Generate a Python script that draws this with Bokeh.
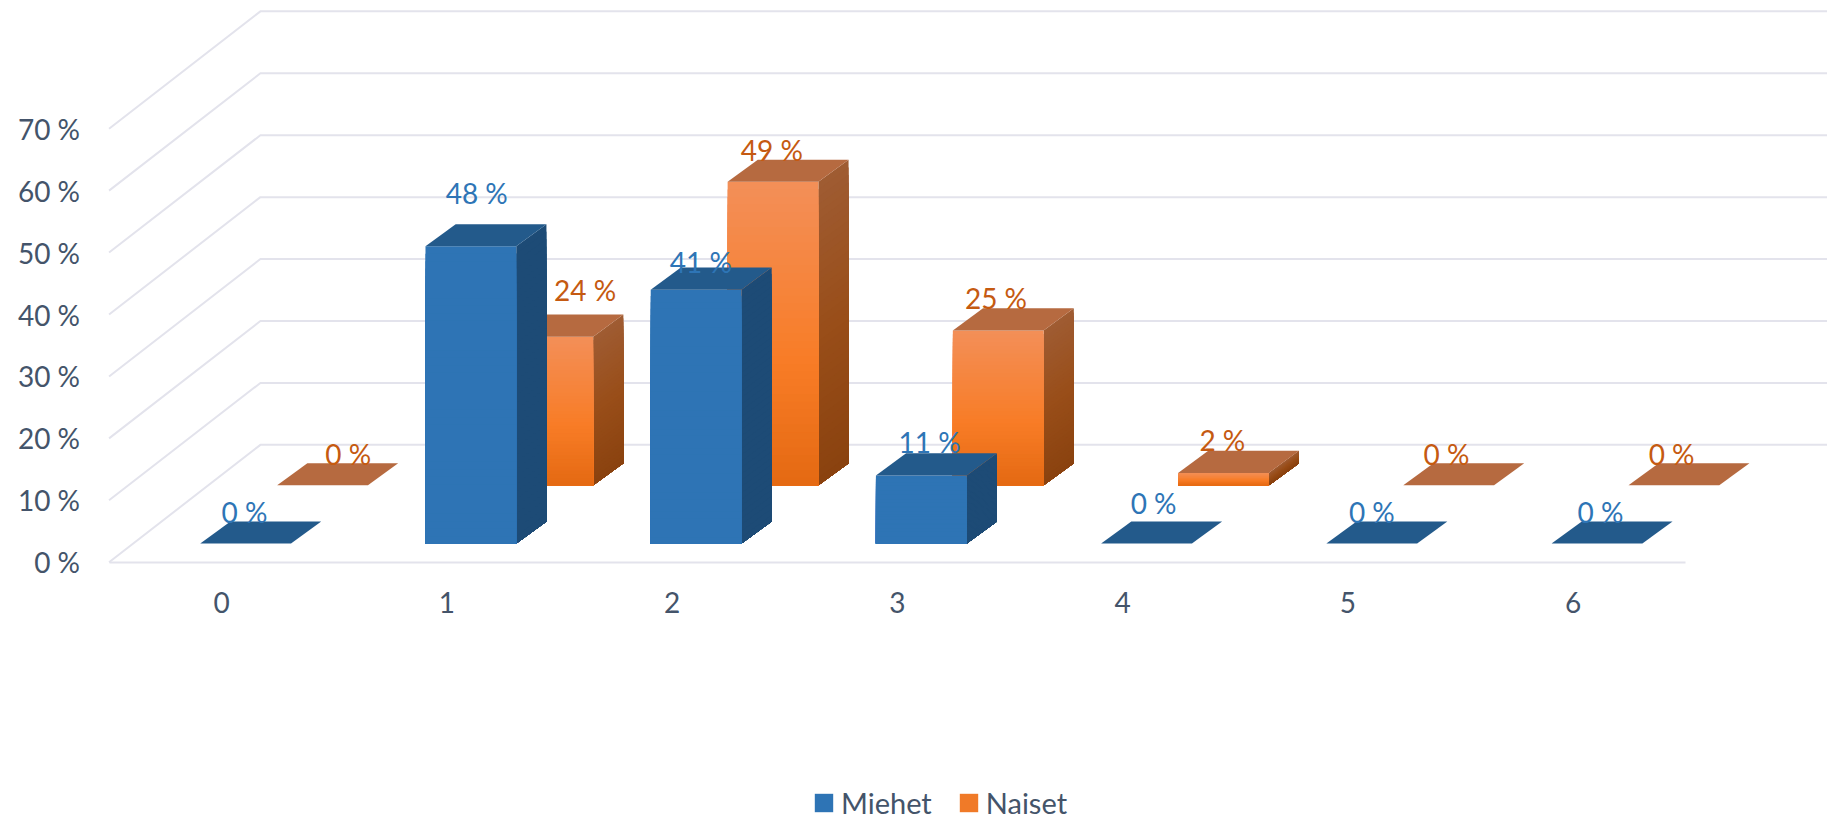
from bokeh.core.properties import value
from bokeh.embed import file_html
from bokeh.models import ColumnDataSource, FixedTicker, Legend, LegendItem, Range1d
from bokeh.plotting import figure
from bokeh.resources import INLINE
from bokeh.colors import RGB

categories = [0, 1, 2, 3, 4, 5, 6]
miehet = [0, 48, 41, 11, 0, 0, 0]
naiset = [0, 24, 49, 25, 2, 0, 0]
y_ticks = [0, 10, 20, 30, 40, 50, 60, 70]

miehet_label_dx = [-2, 4, 3, 6, 5, -1, 2]
miehet_label_dy = [-8, -27, -5, -10, -16, -8, -8]
naiset_label_dx = [21, 31, -2, -3, -2, -3, -3]
naiset_label_dy = [-8, -21, -8, -9, -9, -8, -8]

# oblique projection, in axis units
WALL_DX, WALL_DY = 0.672, 18.95
BAR_W = 0.403
BAR_DX, BAR_DY = 0.134, 3.58
M_SHIFT_X, M_LIFT = 0.1065, 3.01
N_SHIFT_X, N_LIFT = 0.448, 12.42
X0, X1 = -0.5, 6.5
N_SLICES = 40

NUM_FONT = "Lato"
AXIS_COLOR = "#44546A"
GRID = "#E3E3EC"
M_FRONT, M_SIDE, M_TOP, M_TEXT = "#2E74B5", "#1D4B76", "#235A8B", "#2E75B6"
N_TOP, N_TEXT = "#B66A40", "#C55A11"


def mix(stops, t):
    for (t0, c0), (t1, c1) in zip(stops, stops[1:]):
        if t <= t1:
            f = (t - t0) / (t1 - t0)
            return RGB(*[int(round(a + (b - a) * f)) for a, b in zip(c0, c1)]).to_hex()
    return RGB(*stops[-1][1]).to_hex()


FRONT_STOPS = [(0, (228, 105, 18)), (0.4, (248, 124, 38)), (1, (243, 143, 88))]
SIDE_STOPS = [(0, (138, 66, 15)), (0.5, (153, 78, 25)), (1, (159, 92, 51))]

p = figure(width=1827, height=820, output_backend="svg", toolbar_location=None,
           x_range=Range1d(-0.982, 7.13), y_range=Range1d(-41.7, 90.7),
           min_border=0, outline_line_color=None, background_fill_color="white",
           border_fill_color="white")
p.grid.visible = False

# walls
for t in y_ticks:
    p.line([X0, X0 + WALL_DX, 8], [t, t + WALL_DY, t + WALL_DY], line_color=GRID, line_width=2)


def draw_series(values, shift, lift, front, side, top):
    fx, fy, sx, sy, tx, ty, fc, sc = [], [], [], [], [], [], [], []
    txs, tys = [], []
    for c, v in zip(categories, values):
        l = c - BAR_W / 2 + shift
        r = l + BAR_W
        tx.append([l, r, r + BAR_DX, l + BAR_DX])
        ty.append([lift + v, lift + v, lift + v + BAR_DY, lift + v + BAR_DY])
        txs.append(l)
        tys.append(lift + v + BAR_DY)
        if v <= 0:
            continue
        for i in range(N_SLICES, 0, -1):
            t = i / N_SLICES
            h = lift + v * t
            fx.append([l, r, r, l])
            fy.append([lift, lift, h, h])
            fc.append(front if isinstance(front, str) else mix(front, t - 0.5 / N_SLICES))
            sx.append([r, r + BAR_DX, r + BAR_DX, r])
            sy.append([lift, lift + BAR_DY, h + BAR_DY, h])
            sc.append(side if isinstance(side, str) else mix(side, t - 0.5 / N_SLICES))
    p.patches(sx, sy, fill_color=sc, line_color=None)
    fr = p.patches(fx, fy, fill_color=fc, line_color=None)
    p.patches(tx, ty, fill_color=top, line_color=None)
    return fr, txs, tys


_, n_x, n_y = draw_series(naiset, N_SHIFT_X, N_LIFT, FRONT_STOPS, SIDE_STOPS, N_TOP)
_, m_x, m_y = draw_series(miehet, M_SHIFT_X, M_LIFT, M_FRONT, M_SIDE, M_TOP)

PX = 1.165


def labels(xs, ys, vals, dx, dy, color):
    src = ColumnDataSource(dict(
        x=xs, y=ys, t=[f"{v} %" for v in vals],
        ox=[(40 + d) * PX for d in dx], oy=[d * PX for d in dy]))
    p.text("x", "y", text="t", source=src, x_offset="ox", y_offset="oy",
           text_align="center", text_baseline="middle", text_color=color,
           text_font=value(NUM_FONT), text_font_size="28px")


labels(n_x, n_y, naiset, naiset_label_dx, naiset_label_dy, N_TEXT)
labels(m_x, m_y, miehet, miehet_label_dx, miehet_label_dy, M_TEXT)

# axes
xa, ya = p.xaxis[0], p.yaxis[0]
xa.fixed_location = 0
ya.fixed_location = X0
xa.bounds = (X0, X1)
ya.bounds = (0, 70)
xa.ticker = FixedTicker(ticks=categories)
ya.ticker = FixedTicker(ticks=y_ticks)
ya.major_label_overrides = {t: f"{t} %" for t in y_ticks}
for a in (xa, ya):
    a.major_tick_line_color = None
    a.minor_tick_line_color = None
    a.major_label_text_font = NUM_FONT
    a.major_label_text_font_size = "28px"
    a.major_label_text_color = AXIS_COLOR
xa.axis_line_color = GRID
xa.axis_line_width = 2
ya.axis_line_color = None
xa.major_label_standoff = 24
ya.major_label_standoff = 23

# legend
lm = p.quad(left=[0], right=[0], top=[0], bottom=[0], fill_color=M_FRONT, line_color=None)
ln = p.quad(left=[0], right=[0], top=[0], bottom=[0], fill_color="#F07A28", line_color=None)
leg = Legend(items=[LegendItem(label="Miehet", renderers=[lm]), LegendItem(label="Naiset", renderers=[ln])],
             orientation="horizontal", location=(812, 0), padding=0, margin=0, spacing=25,
             glyph_width=23, glyph_height=23, label_standoff=6, border_line_color=None,
             background_fill_alpha=0, label_text_font=NUM_FONT,
             label_text_font_size="29px", label_text_color=AXIS_COLOR)
p.add_layout(leg, "center")

open("out.html", "w").write(file_html(p, INLINE))
